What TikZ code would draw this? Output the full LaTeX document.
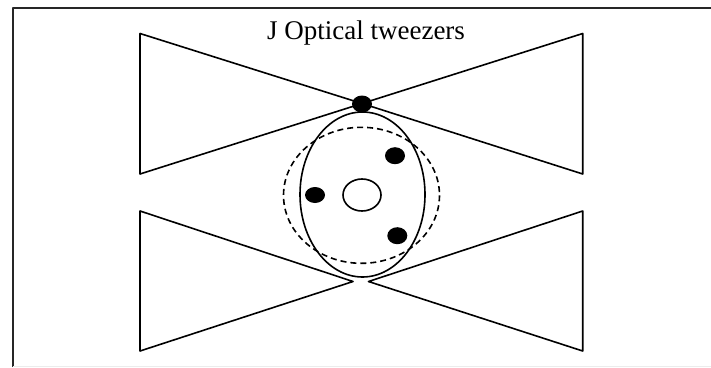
\documentclass[tikz,border=0pt]{standalone}
\usepackage{fontspec}
\setmainfont{Liberation Serif}
\usetikzlibrary{shapes.geometric}
\begin{document}
\begin{tikzpicture}[x=1pt,y=-1pt, line width=1.6pt, line join=round,
  trap/.style={fill=black},
  lbl/.style={font=\fontsize{27}{30}\selectfont, inner sep=0pt}]
\useasboundingbox (0,0) rectangle (711,367);
% frame
\draw[black!85, line width=2pt] (12.5,367)--(12.5,7.5)--(711,7.5);
\draw[gray!15, line width=1pt] (12.5,366.5)--(711,366.5);
\node[lbl, anchor=base] (title) at (366,39) {J Optical tweezers};
% upper beams
\coordinate (focus) at (362,103.5);
\draw (focus)--(140,33.5)--(140,174)--cycle;
\draw (focus)--(582.7,33.5)--(582.7,174)--cycle;
% lower beams
\coordinate (lfoc) at (353,281.5);
\coordinate (rfoc) at (368.5,281.5);
\draw (lfoc)--(140,211)--(140,351)--cycle;
\draw (rfoc)--(582.7,211)--(582.7,351)--cycle;
% particle
\draw (362.5,194.5) ellipse [x radius=62.5, y radius=82.5];
\draw[dash pattern=on 6pt off 4pt] (361.5,195.3) ellipse [x radius=78, y radius=68];
\node[draw, ellipse, minimum width=38pt, minimum height=32pt, inner sep=0pt] (core) at (362,195) {};
% trapped beads
\fill[trap] (362,104) ellipse [x radius=10, y radius=8.5];
\fill[trap] (315,195) ellipse [x radius=10, y radius=8];
\fill[trap] (395,155.7) ellipse [x radius=10, y radius=8.5];
\fill[trap] (397.3,235.7) ellipse [x radius=10, y radius=8.5];
\end{tikzpicture}
\end{document}
